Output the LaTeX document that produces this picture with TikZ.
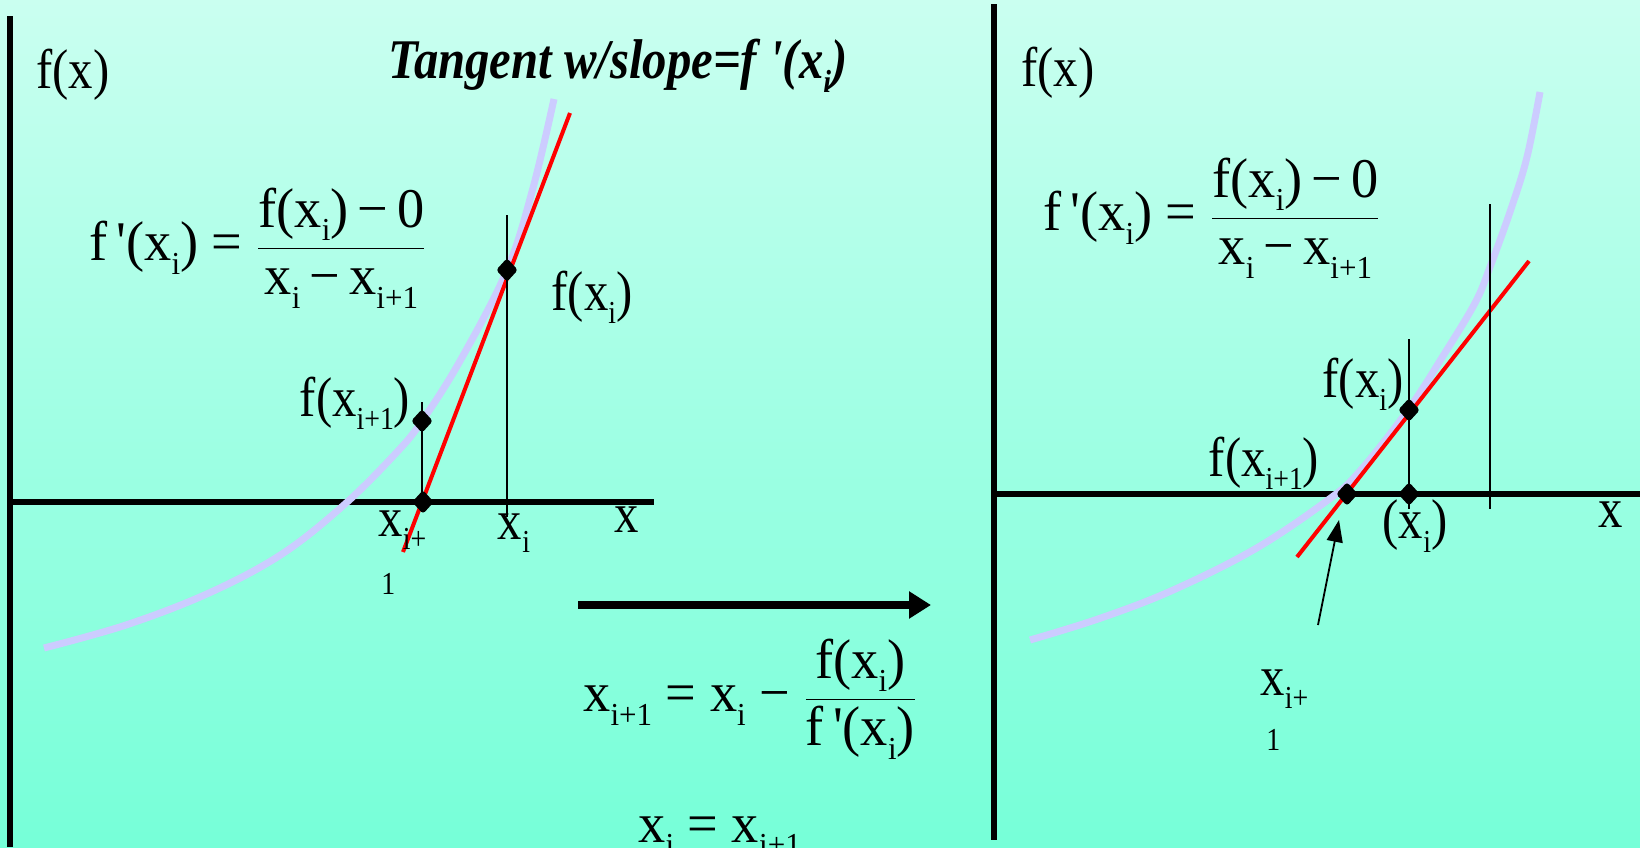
\documentclass[tikz,border=0pt]{standalone}
\usepackage{fontspec}
\setmainfont{Liberation Serif}
\usetikzlibrary{shapes.geometric,arrows.meta}
\definecolor{bgtop}{RGB}{202,255,240}
\definecolor{bgbot}{RGB}{118,255,216}
\definecolor{lav}{RGB}{204,204,255}
\newcommand{\sbs}[1]{\raisebox{-0.24em}{\fontsize{16}{16}\selectfont #1}}
\newcommand{\cnd}[1]{\scalebox{0.87}[1]{#1}}
\newcommand{\cndf}[1]{\scalebox{0.97}[1]{#1}}
\newcommand{\mfr}[2]{$\displaystyle\frac{\mbox{#1}}{\mbox{#2}}$}
\begin{document}
\begin{tikzpicture}[x=0.5pt,y=-0.5pt,
  lbl/.style={inner sep=0pt, font=\fontsize{28}{32}\selectfont},
  dia/.style={diamond, fill=black, inner sep=0pt, minimum width=11pt, minimum height=12pt, rounded corners=1.5pt},
  vaxis/.style={line width=2.6pt, black},
  haxis/.style={line width=3pt, black},
  thinln/.style={line width=0.7pt, black},
  curve/.style={line width=3.5pt, lav},
  tang/.style={line width=2pt, red},
  bigarrow/.style={line width=4.2pt, -{Triangle[length=11pt,width=13pt]}},
  ptr/.style={line width=0.9pt, -{Triangle[length=11pt,width=8pt]}}
]
\useasboundingbox (0,0) rectangle (1640,847);
\clip (0,0) rectangle (1640,847);
\shade[top color=bgtop, bottom color=bgbot] (0,0) rectangle (1640,847);

% ---------------- left panel ----------------
\coordinate (LYt) at (10,16);
\coordinate (LYb) at (10,847);
\coordinate (LXl) at (10,502);
\coordinate (LXr) at (654,502);
\draw[vaxis] (LYt) -- (LYb);
\draw[haxis] (LXl) -- (LXr);

\draw[curve] plot[smooth, tension=0.6] coordinates {(44,648) (126,625) (209,593) (282,554) (345,504) (397,452) (422,421) (460,361) (507,270) (533,188) (554,99)};

\coordinate (LTa) at (403,552);
\coordinate (LTb) at (570,113);
\draw[tang] (LTa) -- (LTb);

\coordinate (LV1t) at (507,215);
\coordinate (LV1b) at (507,517);
\coordinate (LV2t) at (422,402);
\coordinate (LV2b) at (422,502);
\draw[thinln] (LV1t) -- (LV1b);
\draw[thinln] (LV2t) -- (LV2b);

\node[dia] (Ld1) at (507,270) {};
\node[dia] (Ld2) at (422,421) {};
\node[dia] (Ld3) at (423,502) {};

\node[lbl] (Lfx) at (73,75) {\cnd{f(x)}};
\node[lbl] (Ltitle) at (618,66) {\cnd{\bfseries\itshape Tangent w/slope=f \textquotesingle(x\sbs{i})}};
\node[lbl, anchor=west] (Lform) at (89,248) {\cndf{f\,\textquotesingle(x\sbs{i}) = \mfr{f(x\sbs{i})\,−\,0}{x\sbs{i}\,−\,x\sbs{i+1}}}};
\node[lbl] (Lfxi) at (592,297) {\cnd{f(x\sbs{i})}};
\node[lbl] (Lfxi1) at (355,403) {\cnd{f(x\sbs{i+1})}};
\node[lbl, anchor=base west] (Lxi1) at (378,536) {\cnd{x\sbs{i+}}};
\node[lbl, anchor=base west, font=\fontsize{16}{16}\selectfont] (Lone) at (381,594) {\cnd{1}};
\node[lbl] (Lxi) at (514,533) {\cnd{x\sbs{i}}};
\node[lbl] (Lx) at (627,520) {\cnd{x}};

% ---------------- middle ----------------
\coordinate (Aa) at (578,605);
\coordinate (Ab) at (931,605);
\draw[bigarrow] (Aa) -- (Ab);
\node[lbl, anchor=west] (Mform) at (583,699) {\cndf{x\sbs{i+1} = x\sbs{i} − \mfr{f(x\sbs{i})}{f\,\textquotesingle(x\sbs{i})}}};
\node[lbl, anchor=base west] (Mupd) at (638,842) {\cndf{x\sbs{i} = x\sbs{i+1}}};

% ---------------- right panel ----------------
\coordinate (RYt) at (994,4);
\coordinate (RYb) at (994,840);
\coordinate (RXl) at (994,494);
\coordinate (RXr) at (1640,494);
\draw[vaxis] (RYt) -- (RYb);
\draw[haxis] (RXl) -- (RXr);

\draw[curve] plot[smooth, tension=0.6] coordinates {(1030,640) (1098,619) (1171,591) (1255,549) (1328,500) (1360,471) (1408,410) (1443,356) (1475,303) (1490,267) (1511,209) (1527,157) (1540,92)};

\coordinate (RTa) at (1297,557);
\coordinate (RTb) at (1529,261);
\draw[tang] (RTa) -- (RTb);

\coordinate (RV1t) at (1409,339);
\coordinate (RV1b) at (1409,509);
\coordinate (RV2t) at (1490,204);
\coordinate (RV2b) at (1490,509);
\draw[thinln] (RV1t) -- (RV1b);
\draw[thinln] (RV2t) -- (RV2b);

\node[dia] (Rd1) at (1409,410) {};
\node[dia] (Rd2) at (1347,494) {};
\node[dia] (Rd3) at (1409,494) {};

\node[lbl] (Rfx) at (1058,73) {\cnd{f(x)}};
\node[lbl, anchor=west] (Rform) at (1043,218) {\cndf{f\,\textquotesingle(x\sbs{i}) = \mfr{f(x\sbs{i})\,−\,0}{x\sbs{i}\,−\,x\sbs{i+1}}}};
\node[lbl] (Rfxi) at (1363,384) {\cnd{f(x\sbs{i})}};
\node[lbl] (Rfxi1) at (1264,463) {\cnd{f(x\sbs{i+1})}};
\node[lbl] (Rxi) at (1415,526) {\cnd{(x\sbs{i})}};
\node[lbl] (Rx) at (1611,515) {\cnd{x}};
\node[lbl, anchor=base west] (Rxi1) at (1260,695) {\cnd{x\sbs{i+}}};
\node[lbl, anchor=base west, font=\fontsize{16}{16}\selectfont] (Rone) at (1266,750) {\cnd{1}};

\coordinate (Pa) at (1318,625);
\coordinate (Pb) at (1339,520);
\draw[ptr] (Pa) -- (Pb);
\end{tikzpicture}
\end{document}
